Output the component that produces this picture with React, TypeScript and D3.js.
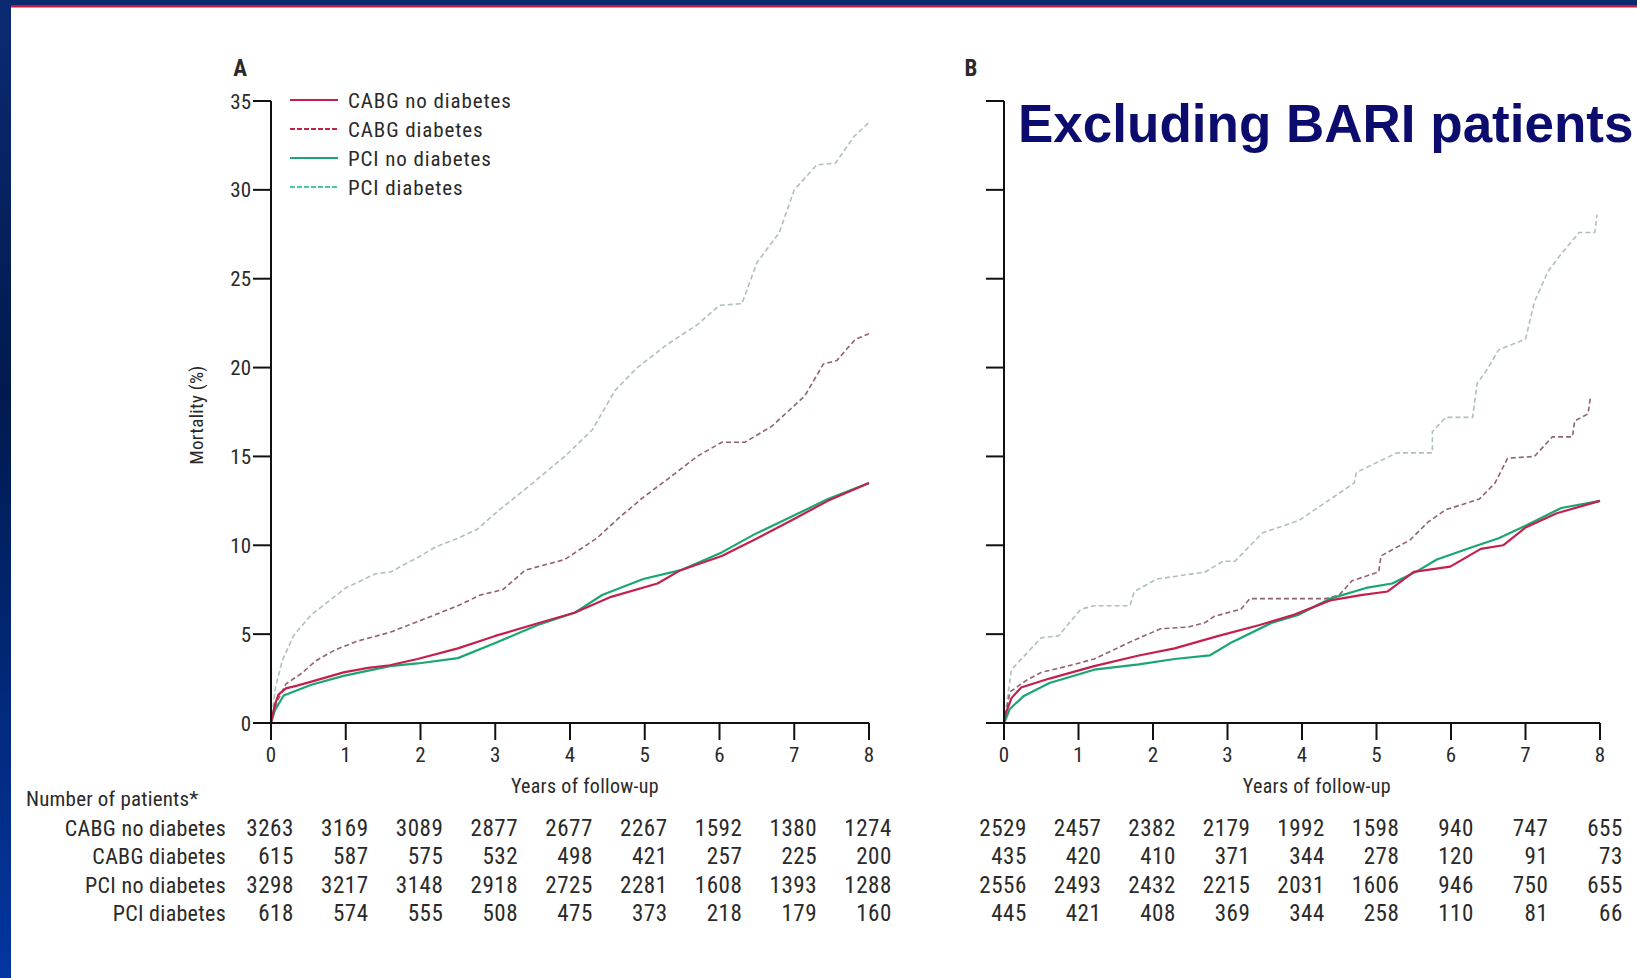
import React from "react";
import * as d3 from "d3";

// ---------- DATA ----------
const years = [0, 1, 2, 3, 4, 5, 6, 7, 8];
const yTicks = [0, 5, 10, 15, 20, 25, 30, 35];
const seriesNames = ["CABG no diabetes", "CABG diabetes", "PCI no diabetes", "PCI diabetes"];

// Panel A curves: [year, mortality %]
const aCabgNoDm: [number, number][] = [
  [0, 0], [0.05, 1.0], [0.1, 1.6], [0.2, 1.95], [0.35, 2.1], [0.6, 2.4], [0.97, 2.85], [1.3, 3.1], [1.59, 3.25],
  [1.96, 3.6], [2.5, 4.2], [3.0, 4.9], [3.56, 5.6], [4.06, 6.2], [4.55, 7.1], [5.17, 7.85], [5.48, 8.6],
  [6.03, 9.4], [6.46, 10.3], [6.96, 11.4], [7.45, 12.5], [8.0, 13.5],
];
const aCabgDm: [number, number][] = [
  [0, 0], [0.08, 1.2], [0.2, 2.2], [0.41, 2.8], [0.6, 3.5], [0.85, 4.1], [1.15, 4.6], [1.59, 5.1], [2.08, 5.9],
  [2.5, 6.6], [2.8, 7.2], [3.1, 7.5], [3.4, 8.6], [3.93, 9.2], [4.36, 10.4], [4.67, 11.6], [4.98, 12.7],
  [5.3, 13.7], [5.7, 15.0], [6.03, 15.8], [6.34, 15.8], [6.7, 16.7], [7.14, 18.4], [7.39, 20.2], [7.57, 20.4],
  [7.82, 21.6], [8.0, 21.9],
];
const aPciNoDm: [number, number][] = [
  [0, 0], [0.05, 0.7], [0.17, 1.55], [0.54, 2.15], [0.97, 2.65], [1.59, 3.2], [1.96, 3.35], [2.5, 3.65],
  [3.0, 4.5], [3.56, 5.5], [4.06, 6.2], [4.43, 7.2], [4.98, 8.1], [5.48, 8.6], [6.03, 9.6], [6.46, 10.6],
  [6.96, 11.6], [7.45, 12.6], [8.0, 13.5],
];
const aPciDm: [number, number][] = [
  [0, 0], [0.06, 2.0], [0.15, 3.5], [0.3, 4.9], [0.54, 6.1], [1.0, 7.6], [1.4, 8.4], [1.6, 8.5], [2.0, 9.4],
  [2.2, 9.9], [2.5, 10.4], [2.76, 10.9], [3.0, 11.8], [3.5, 13.5], [3.7, 14.2], [3.93, 15.0], [4.3, 16.5],
  [4.6, 18.7], [4.9, 20.0], [5.3, 21.3], [5.7, 22.4], [6.0, 23.5], [6.3, 23.6], [6.5, 25.9], [6.8, 27.6],
  [7.0, 30.0], [7.3, 31.4], [7.55, 31.5], [7.8, 33.0], [8.0, 33.8],
];

// Panel B curves
const bCabgNoDm: [number, number][] = [
  [0, 0], [0.02, 0.5], [0.1, 1.4], [0.23, 2.0], [0.61, 2.5], [1.21, 3.2], [1.81, 3.8], [2.29, 4.2], [2.88, 4.9],
  [3.42, 5.5], [3.9, 6.1], [4.38, 6.9], [4.79, 7.2], [5.15, 7.4], [5.5, 8.5], [5.99, 8.8], [6.4, 9.8],
  [6.7, 10.0], [7.0, 11.0], [7.42, 11.8], [8.0, 12.5],
];
const bCabgDm: [number, number][] = [
  [0, 0], [0.08, 1.75], [0.3, 2.4], [0.5, 2.85], [0.85, 3.2], [1.21, 3.6], [1.69, 4.55], [2.1, 5.3],
  [2.47, 5.4], [2.7, 5.65], [2.82, 6.0], [3.18, 6.4], [3.3, 7.0], [4.32, 7.0], [4.5, 7.2], [4.67, 8.0],
  [5.03, 8.5], [5.06, 9.4], [5.45, 10.3], [5.69, 11.3], [5.93, 12.0], [6.38, 12.6], [6.59, 13.5],
  [6.76, 14.9], [7.12, 15.0], [7.36, 16.1], [7.63, 16.1], [7.66, 17.0], [7.84, 17.4], [7.87, 18.3],
];
const bPciNoDm: [number, number][] = [
  [0, 0], [0.08, 0.8], [0.26, 1.5], [0.61, 2.25], [1.21, 3.0], [1.81, 3.3], [2.29, 3.6], [2.76, 3.8],
  [3.06, 4.55], [3.6, 5.65], [3.96, 6.1], [4.38, 7.0], [4.86, 7.6], [5.21, 7.85], [5.57, 8.6], [5.81, 9.2],
  [6.29, 9.9], [6.64, 10.4], [7.0, 11.1], [7.48, 12.1], [8.0, 12.5],
];
const bPciDm: [number, number][] = [
  [0, 0], [0.1, 3.0], [0.5, 4.8], [0.73, 4.9], [1.03, 6.4], [1.21, 6.6], [1.69, 6.6], [1.75, 7.4], [2.05, 8.1],
  [2.7, 8.5], [2.94, 9.1], [3.1, 9.1], [3.47, 10.7], [3.96, 11.4], [4.7, 13.5], [4.73, 14.1], [5.27, 15.2],
  [5.75, 15.2], [5.75, 16.4], [5.93, 17.2], [6.29, 17.2], [6.35, 19.1], [6.47, 19.8], [6.64, 21.0],
  [7.0, 21.6], [7.12, 23.7], [7.3, 25.4], [7.48, 26.4], [7.72, 27.6], [7.93, 27.6], [7.96, 28.6],
];

// Numbers at risk
const aAtRisk = [
  [3263, 3169, 3089, 2877, 2677, 2267, 1592, 1380, 1274],
  [615, 587, 575, 532, 498, 421, 257, 225, 200],
  [3298, 3217, 3148, 2918, 2725, 2281, 1608, 1393, 1288],
  [618, 574, 555, 508, 475, 373, 218, 179, 160],
];
const bAtRisk = [
  [2529, 2457, 2382, 2179, 1992, 1598, 940, 747, 655],
  [435, 420, 410, 371, 344, 278, 120, 91, 73],
  [2556, 2493, 2432, 2215, 2031, 1606, 946, 750, 655],
  [445, 421, 408, 369, 344, 258, 110, 81, 66],
];

// ---------- STYLE ----------
const W = 1637;
const H = 978;
const NARROW = "'Liberation Sans Narrow', 'Roboto Condensed', 'DejaVu Sans Condensed', sans-serif";
const TXT = "#2a2a2a";
const RED = "#c4204c";
const GREEN = "#1aa673";
const curveStyles = [
  { stroke: RED, dash: undefined, width: 2.2, opacity: 1 },
  { stroke: "#7e4656", dash: "5,3", width: 1.6, opacity: 0.85 },
  { stroke: GREEN, dash: undefined, width: 2.2, opacity: 1 },
  { stroke: "#a6b9b0", dash: "5,3", width: 1.6, opacity: 0.9 },
];
const legendStyles = [
  { stroke: RED, dash: undefined },
  { stroke: RED, dash: "5,2" },
  { stroke: GREEN, dash: undefined },
  { stroke: "#48c8a4", dash: "5,2" },
];

const Y0 = 723;
const Y35 = 101;

function Panel({
  x0, x8, curves, atRisk, showYLabels, letter, letterX,
}: {
  x0: number; x8: number; curves: [number, number][][]; atRisk: number[][];
  showYLabels: boolean; letter: string; letterX: number;
}) {
  const x = d3.scaleLinear().domain([0, 8]).range([x0, x8]);
  const y = d3.scaleLinear().domain([0, 35]).range([Y0, Y35]);
  const line = d3.line<[number, number]>().x((d) => x(d[0])).y((d) => y(d[1])).curve(d3.curveLinear);
  const tickLen = 18;
  const rowY = [828, 856, 885, 913];
  const order = [3, 1, 2, 0];
  return (
    <g>
      <text x={letterX} y={76} fontFamily={NARROW} fontWeight="bold" fontSize={23} fill={TXT} textAnchor="middle">
        {letter}
      </text>
      {order.map((i) => (
        <path
          key={i}
          d={line(curves[i]) || ""}
          fill="none"
          stroke={curveStyles[i].stroke}
          strokeWidth={curveStyles[i].width}
          strokeDasharray={curveStyles[i].dash}
          strokeOpacity={curveStyles[i].opacity}
          strokeLinejoin="round"
        />
      ))}
      {/* axes */}
      <line x1={x0} x2={x0} y1={y(35)} y2={y(0)} stroke="#111" strokeWidth={2} />
      <line x1={x0 - tickLen} x2={x8} y1={y(0)} y2={y(0)} stroke="#111" strokeWidth={2} />
      {yTicks.map((t) => (
        <g key={"y" + t}>
          <line x1={x0 - tickLen} x2={x0} y1={y(t)} y2={y(t)} stroke="#111" strokeWidth={2} />
          {showYLabels && (
            <text x={x0 - 20} y={y(t)} dy="0.36em" textAnchor="end" fontFamily={NARROW} fontSize={21} fill={TXT}>
              {t}
            </text>
          )}
        </g>
      ))}
      {years.map((t) => (
        <g key={"x" + t}>
          <line x1={x(t)} x2={x(t)} y1={y(0)} y2={y(0) + 17} stroke="#111" strokeWidth={2} />
          <text x={x(t)} y={762} textAnchor="middle" fontFamily={NARROW} fontSize={21} fill={TXT}>
            {t}
          </text>
        </g>
      ))}
      <text x={x(4.2)} y={793} textAnchor="middle" fontFamily={NARROW} fontSize={20} fill={TXT} letterSpacing={0.3}>
        Years of follow-up
      </text>
      {atRisk.map((row, r) =>
        row.map((v, c) => (
          <text
            key={r + "-" + c}
            x={x(years[c]) + 23}
            y={rowY[r]}
            dy="0.36em"
            textAnchor="end"
            fontFamily={NARROW}
            fontSize={23}
            letterSpacing={0.6}
            fill={TXT}
          >
            {v}
          </text>
        ))
      )}
    </g>
  );
}

export default function App() {
  const rowY = [828, 856, 885, 913];
  const legendY = [100, 129, 158, 187];
  return (
    <svg
      width={W}
      height={H}
      viewBox={`0 0 ${W} ${H}`}
      style={{ position: "fixed", left: 0, top: 0, background: "#fff" }}
    >
      <defs>
        <linearGradient id="leftBar" x1="0" y1="0" x2="0" y2="1">
          <stop offset="0" stopColor="#0b2a72" />
          <stop offset="0.4" stopColor="#001a4e" />
          <stop offset="1" stopColor="#0336a2" />
        </linearGradient>
      </defs>
      <rect x={0} y={0} width={W} height={H} fill="#ffffff" />
      <rect x={0} y={0} width={W} height={5} fill="#0b2a6e" />
      <rect x={0} y={5} width={W} height={2.5} fill="#c8173f" />
      <rect x={0} y={0} width={11} height={H} fill="url(#leftBar)" />

      <Panel x0={271} x8={869} curves={[aCabgNoDm, aCabgDm, aPciNoDm, aPciDm]} atRisk={aAtRisk} showYLabels letter="A" letterX={240} />
      <Panel x0={1004} x8={1600} curves={[bCabgNoDm, bCabgDm, bPciNoDm, bPciDm]} atRisk={bAtRisk} showYLabels={false} letter="B" letterX={971} />

      {/* y axis title */}
      <text
        transform="translate(196,415) rotate(-90)"
        textAnchor="middle"
        dy="0.36em"
        fontFamily={NARROW}
        fontSize={19}
        fill={TXT}
        letterSpacing={0.3}
      >
        Mortality (%)
      </text>

      {/* legend */}
      {seriesNames.map((n, i) => (
        <g key={n}>
          <line x1={290} x2={338} y1={legendY[i]} y2={legendY[i]} stroke={legendStyles[i].stroke} strokeWidth={2.2} strokeDasharray={legendStyles[i].dash} />
          <text x={348} y={legendY[i]} dy="0.36em" fontFamily={NARROW} fontSize={21} fill={TXT} letterSpacing={0.9}>
            {n}
          </text>
        </g>
      ))}

      {/* at-risk table labels */}
      <text x={26} y={798} dy="0.36em" fontFamily={NARROW} fontSize={21} fill={TXT} letterSpacing={0.2}>
        Number of patients*
      </text>
      {seriesNames.map((n, i) => (
        <text key={"r" + n} x={226} y={rowY[i]} dy="0.36em" textAnchor="end" fontFamily={NARROW} fontSize={22} fill={TXT} letterSpacing={0.3}>
          {n}
        </text>
      ))}

      {/* overlay title */}
      <text
        x={1018}
        y={142}
        fontFamily="'Liberation Sans', Arial, Helvetica, sans-serif"
        fontWeight="bold"
        fontSize={53}
        fill="#0c0c6e"
      >
        Excluding BARI patients
      </text>
    </svg>
  );
}
